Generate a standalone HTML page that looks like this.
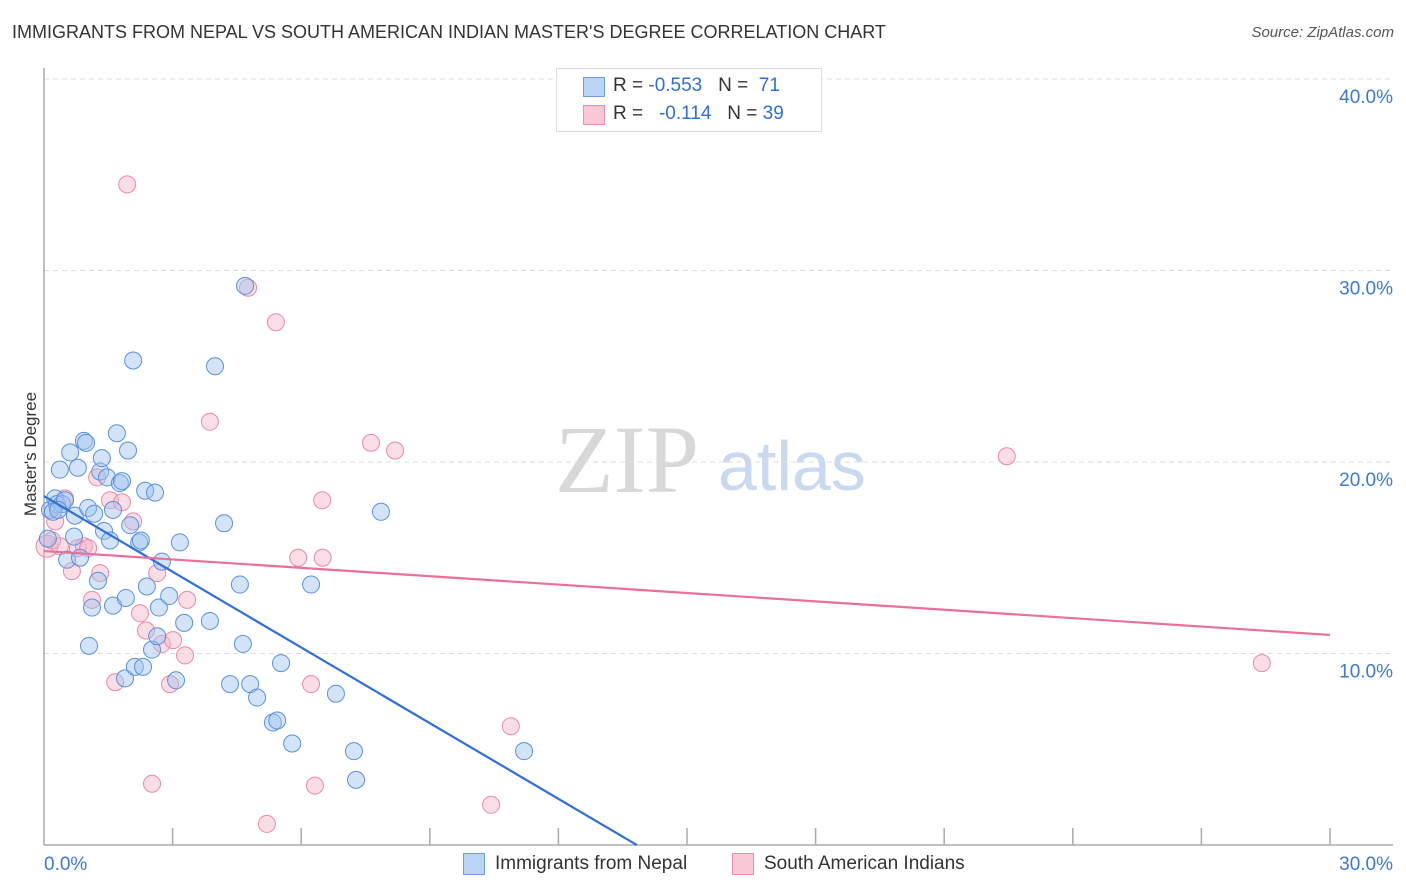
<!DOCTYPE html>
<html><head><meta charset="utf-8"><style>
body{margin:0;background:#fff;font-family:"Liberation Sans",sans-serif}
#wrap{position:relative;width:1406px;height:892px;overflow:hidden}
.t{position:absolute;white-space:nowrap}
</style></head><body>
<div id="wrap">
<div class="t" style="left:12px;top:22px;font-size:18px;color:#333">IMMIGRANTS FROM NEPAL VS SOUTH AMERICAN INDIAN MASTER'S DEGREE CORRELATION CHART</div>
<div class="t" style="right:12px;top:24px;font-size:15px;color:#555;font-style:italic">Source: ZipAtlas.com</div>
<div class="t" style="left:-34px;top:444px;font-size:17px;color:#333;transform:rotate(-90deg);transform-origin:center;width:130px;text-align:center">Master's Degree</div>
<svg id="plot" width="1406" height="892" style="position:absolute;left:0;top:0">
<text x="555" y="492" font-family="Liberation Serif,serif" font-size="96" fill="#d8d8d8">ZIP</text>
<text x="718" y="490" font-family="Liberation Sans,sans-serif" font-size="70" fill="#c9d9ef">atlas</text>
</svg>
<div style="position:absolute;left:556px;top:68px;width:264px;height:62px;border:1px solid #ddd;background:#fff;font-size:19px">
<div style="position:absolute;left:26px;top:8px;width:20px;height:18px;background:#bcd4f5;border:1px solid #6b9fe0"></div>
<div class="t" style="left:56px;top:6px;color:#333">R = <span style="color:#2f6fd6">-0.553</span>&nbsp;&nbsp;&nbsp;N = &nbsp;<span style="color:#2f6fd6">71</span></div>
<div style="position:absolute;left:26px;top:36px;width:20px;height:18px;background:#f8c8d6;border:1px solid #e890aa"></div>
<div class="t" style="left:56px;top:34px;color:#333">R = &nbsp;&nbsp;<span style="color:#2f6fd6">-0.114</span>&nbsp;&nbsp;&nbsp;N = <span style="color:#2f6fd6">39</span></div>
</div>
<div style="position:absolute;left:463px;top:853px;width:20px;height:20px;background:#bcd4f5;border:1px solid #6b9fe0"></div>
<div class="t" style="left:495px;top:853px;font-size:19px;color:#333">Immigrants from Nepal</div>
<div style="position:absolute;left:732px;top:853px;width:20px;height:20px;background:#f8c8d6;border:1px solid #e890aa"></div>
<div class="t" style="left:764px;top:853px;font-size:19px;color:#333">South American Indians</div>
</div>
<script>
const yTicks=[0,10,20,30,40];
const yTickLabels=["","10.0%","20.0%","30.0%","40.0%"];
const xTickVals=[0,3,6,9,12,15,18,21,24,27,30];
const nepalX=[0.14,0.26,0.3,0.37,0.42,0.49,0.54,0.61,0.7,0.72,0.79,0.84,0.93,0.98,1.03,1.05,1.12,1.17,1.26,1.31,1.35,1.4,1.47,1.54,1.61,1.61,1.7,1.77,1.82,1.89,1.91,1.96,2.01,2.08,2.12,2.22,2.26,2.31,2.36,2.4,2.52,2.59,2.64,2.68,2.75,2.92,3.08,3.17,3.27,3.87,3.99,4.2,4.34,4.57,4.64,4.69,4.81,4.97,5.34,5.44,5.53,5.79,6.23,6.81,7.23,7.28,7.86,11.2,0.09,0.21,0.33];
const nepalY=[17.5,18.1,17.8,19.6,17.8,18.0,14.9,20.5,16.1,17.2,19.7,15.0,21.1,21.0,17.6,10.4,12.4,17.3,13.8,19.5,20.2,16.4,19.2,15.9,12.5,17.5,21.5,18.9,19.0,8.7,12.9,20.6,16.7,25.3,9.3,15.8,15.9,9.3,18.5,13.5,10.2,18.4,10.9,12.4,14.8,13.0,8.6,15.8,11.6,11.7,25.0,16.8,8.4,13.6,10.5,29.2,8.4,7.7,6.4,6.5,9.5,5.3,13.6,7.9,4.9,3.4,17.4,4.9,16.0,17.4,17.5];
const saiX=[0.07,0.19,0.26,0.37,0.49,0.65,0.79,0.93,1.03,1.12,1.24,1.31,1.54,1.66,1.82,1.94,2.08,2.24,2.38,2.52,2.64,2.75,2.94,3.01,3.29,3.34,3.87,4.76,5.2,5.41,5.93,6.32,6.49,6.5,6.23,7.63,8.19,10.43,10.89,22.46,28.41];
const saiY=[15.6,15.9,16.9,15.6,18.1,14.3,15.5,15.6,15.5,12.8,19.2,14.2,18.0,8.5,17.9,34.5,16.9,12.1,11.2,3.2,14.2,10.5,8.4,10.7,9.9,12.8,22.1,29.1,1.1,27.3,15.0,3.1,18.0,15.0,8.4,21.0,20.6,2.1,6.2,20.3,9.5];
const nepalTrend=[18.22,0,13.83];
const saiTrend=[15.35,10.97];
const W=1406,H=892,X0=44,X1=1330,Y0=845,Y40=79;
const sx=v=>X0+(X1-X0)*v/30;
const sy=v=>Y0-(Y0-Y40)*v/40;
const svg=document.getElementById('plot');
const NS='http://www.w3.org/2000/svg';
function mk(tag,attrs){const e=document.createElementNS(NS,tag);for(const k in attrs)e.setAttribute(k,attrs[k]);svg.appendChild(e);return e;}
yTicks.forEach((t,i)=>{
 if(t>0){const g=mk('line',{x1:X0,x2:1393,y1:sy(t),y2:sy(t),stroke:'#ddd','stroke-dasharray':'5,4'});
 
 
 const tx=mk('text',{x:1393,y:sy(t)+24,'text-anchor':'end','font-size':19,fill:'#3b78d8','font-family':'Liberation Sans,sans-serif'});tx.textContent=yTickLabels[i];
 
 }
});
const ax=mk('line',{x1:X0,x2:X0,y1:68,y2:Y0,stroke:'#aaa','stroke-width':1.5});


const bx=mk('line',{x1:X0,x2:1393,y1:Y0,y2:Y0,stroke:'#aaa','stroke-width':1.5});


xTickVals.forEach(v=>{if(v>0){const l=mk('line',{x1:sx(v),x2:sx(v),y1:828,y2:Y0,stroke:'#aaa','stroke-width':1.5});
 
 }});
const xl0=mk('text',{x:44,y:870,'font-size':19,fill:'#3b78d8','font-family':'Liberation Sans,sans-serif'});xl0.textContent='0.0%';


const xl1=mk('text',{x:1393,y:870,'text-anchor':'end','font-size':19,fill:'#3b78d8','font-family':'Liberation Sans,sans-serif'});xl1.textContent='30.0%';


saiX.forEach((x,i)=>{const c=mk('circle',{cx:sx(x),cy:sy(saiY[i]),r:i==0?11:8.5,fill:'rgba(246,180,200,0.45)',stroke:'#e98aa8','stroke-width':1});
 
 });
nepalX.forEach((x,i)=>{const c=mk('circle',{cx:sx(x),cy:sy(nepalY[i]),r:8.5,fill:'rgba(160,196,240,0.45)',stroke:'#5a90dc','stroke-width':1});
 
 });
const l1=mk('line',{x1:sx(0),y1:sy(nepalTrend[0]),x2:sx(nepalTrend[2]),y2:sy(nepalTrend[1]),stroke:'#2f6fd6','stroke-width':2.2});


const l2=mk('line',{x1:sx(0),y1:sy(saiTrend[0]),x2:sx(30),y2:sy(saiTrend[1]),stroke:'#e8709a','stroke-width':2.2});


</script>
</body></html>
